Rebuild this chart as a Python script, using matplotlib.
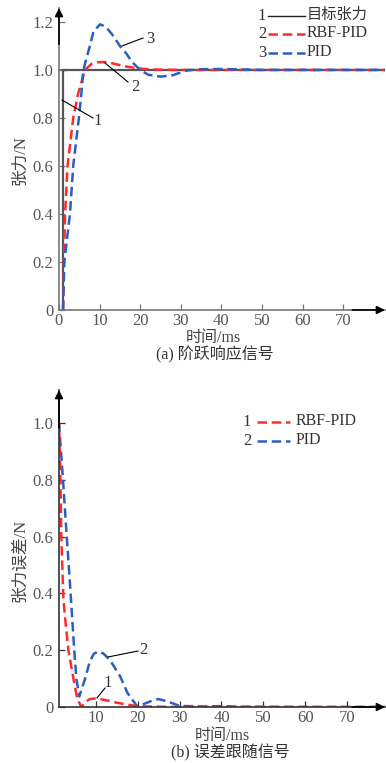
import matplotlib
matplotlib.use("Agg")
import matplotlib.pyplot as plt
from matplotlib.lines import Line2D

FAM = ['Liberation Serif', 'Noto Sans CJK SC', 'DejaVu Sans']
plt.rcParams['font.family'] = FAM

# ---------------- data: (a) step response ----------------
target_t = [0.9, 0.9, 80.3]
target_v = [0, 1.0, 1.0]

rbf_t = [1.0, 1.2, 1.5, 2.1, 3.5, 4.7, 6.4, 8.0, 9.5, 11.3, 13, 15, 17, 19, 21, 23, 26, 30, 40, 50, 60, 70, 80.3]
rbf_v = [0.0, 0.2, 0.4, 0.6, 0.8, 0.9, 1.0, 1.025, 1.032, 1.033, 1.028, 1.02, 1.013, 1.008, 1.004, 1.002, 1.001, 1.0, 1.0, 1.0, 1.0, 1.0, 1.0]

pid_t = [1.0, 1.3, 2.0, 2.7, 3.5, 4.9, 5.5, 6.0, 7.6, 8.5, 10.1, 11.5, 13, 15, 16.5, 18, 20, 22, 25, 28, 31.5, 35, 40, 45, 50, 60, 70, 80.3]
pid_v = [0.0, 0.2, 0.3, 0.4, 0.6, 0.8, 0.9, 1.0, 1.1, 1.16, 1.19, 1.18, 1.15, 1.1, 1.07, 1.033, 1.0, 0.98, 0.972, 0.978, 0.998, 1.003, 1.004, 1.002, 1.0, 1.0, 1.0, 1.0]

# ---------------- data: (b) error tracking ----------------
erbf_t = [1.15, 1.5, 1.7, 2.2, 2.7, 3.4, 4.6, 5.5, 6.5, 7.5, 8.5, 9.8, 11, 13, 15, 18, 20.6, 25, 30, 40, 60, 79.1]
erbf_v = [1.0, 0.8, 0.6, 0.38, 0.3, 0.2, 0.1, 0.03, 0.0, 0.018, 0.028, 0.03, 0.028, 0.022, 0.015, 0.007, 0.002, 0.001, 0.0, 0.0, 0.0, 0.0]

epid_t = [1.15, 2.1, 3.0, 3.7, 4.8, 5.3, 6.0, 7.4, 8.5, 9.5, 10.6, 11.8, 13, 14, 15.8, 17.5, 19.8, 21, 23, 24.9, 27, 30, 35, 40, 45, 60, 79.1]
epid_v = [1.0, 0.8, 0.6, 0.45, 0.2, 0.1, 0.037, 0.1, 0.16, 0.188, 0.195, 0.188, 0.17, 0.15, 0.107, 0.05, 0.003, 0.008, 0.02, 0.028, 0.02, 0.004, 0.002, 0.003, 0.001, 0.0, 0.0]

xt_a = [0, 10, 20, 30, 40, 50, 60, 70]
yt_a = [0, 0.2, 0.4, 0.6, 0.8, 1.0, 1.2]
yl_a = ['0', '0.2', '0.4', '0.6', '0.8', '1.0', '1.2']
xt_b = [10, 20, 30, 40, 50, 60, 70]
yt_b = [0, 0.2, 0.4, 0.6, 0.8, 1.0]
yl_b = ['0', '0.2', '0.4', '0.6', '0.8', '1.0']

RED = '#ff2a2a'
BLUE = '#2a5fc0'
GRAY = '#555555'
DASH = (0, (3.8, 1.9))

W, H = 386, 763
fig = plt.figure(figsize=(W / 100, H / 100), dpi=100)


def px(x, y):
    return x / W, 1 - y / H


def axes_px(l, t, r, b):
    return fig.add_axes([l / W, 1 - b / H, (r - l) / W, (b - t) / H])


def style(ax, axcolor):
    for s in ['top', 'right']:
        ax.spines[s].set_visible(False)
    for s in ['left', 'bottom']:
        ax.spines[s].set_color(axcolor)
        ax.spines[s].set_linewidth(1.2)
    ax.tick_params(direction='in', length=4, width=0.9, colors=axcolor,
                   labelcolor=GRAY, labelsize=12, pad=2)
    ax.tick_params(axis='y', pad=4)
    ax.patch.set_alpha(0)
    ax.annotate('', xy=(0, 1), xycoords='axes fraction', xytext=(0, 0.88),
                arrowprops=dict(arrowstyle='-|>', color='black', lw=1.2,
                                mutation_scale=12, shrinkA=0, shrinkB=0))
    ax.annotate('', xy=(1, 0), xycoords='axes fraction', xytext=(0.9, 0),
                arrowprops=dict(arrowstyle='-|>', color='black', lw=1.2,
                                mutation_scale=12, shrinkA=0, shrinkB=0))


def ftext(x, y, s, size=11, ha='center', va='center', color='#333333', **kw):
    fx, fy = px(x, y)
    fig.text(fx, fy, s, fontsize=size, ha=ha, va=va, color=color, **kw)


def fline(x0, y0, x1, y1, **kw):
    a = px(x0, y0)
    b = px(x1, y1)
    fig.add_artist(Line2D([a[0], b[0]], [a[1], b[1]], transform=fig.transFigure, **kw))


# ---------------- (a) ----------------
ax1 = axes_px(59, 8, 385, 310)
style(ax1, '#777777')
ax1.set_xlim(0, 80.3)
ax1.set_ylim(0, 1.258)
ax1.axhline(1.0, xmax=0.02, color='#777777', lw=1.6)
ax1.plot(target_t, target_v, color='#555555', lw=1.6, solid_capstyle='butt')
ax1.plot(rbf_t, rbf_v, color=RED, lw=1.8, ls=DASH)
ax1.plot(pid_t, pid_v, color=BLUE, lw=1.8, ls=DASH)
ax1.set_xticks(xt_a)
ax1.set_xticklabels([str(v) for v in xt_a])
ax1.set_yticks(yt_a)
ax1.set_yticklabels(yl_a)

ftext(20, 160, '张力/N', size=12, rotation=90, color='#444444')
ftext(213, 338, '时间/ms', size=11.5, color='#444444')
ftext(215, 355, '(a) 阶跃响应信号', size=11.5, color='#333333')

# legend (a)
ftext(262, 16, '1', size=12)
fline(268, 16, 305, 16, color='#222222', lw=1.0)
ftext(307, 15, '目标张力', size=11, ha='left')
ftext(262, 34, '2', size=12)
fline(268, 34, 305, 34, color=RED, lw=1.8, ls=DASH)
ftext(307, 33, 'RBF-PID', size=11.5, ha='left')
ftext(262, 53, '3', size=12)
fline(268, 53, 305, 53, color=BLUE, lw=1.8, ls=DASH)
ftext(307, 52, 'PID', size=11.5, ha='left')

# callouts (a)
fline(122, 46, 143, 38, color='black', lw=0.8)
ftext(150, 39, '3', size=12)
fline(105, 63, 128, 82, color='black', lw=0.8)
ftext(135, 87, '2', size=12)
fline(62, 100, 93, 118, color='black', lw=0.8)
ftext(98, 121, '1', size=12)

# ---------------- (b) ----------------
ax2 = axes_px(59, 390, 385, 707)
style(ax2, '#333333')
ax2.set_xlim(1.15, 79.1)
ax2.set_ylim(0, 1.116)
ax2.plot(epid_t, epid_v, color=BLUE, lw=1.8, ls=DASH)
ax2.plot(erbf_t, erbf_v, color=RED, lw=1.8, ls=(2.0, (3.8, 1.9)))
ax2.set_xticks(xt_b)
ax2.set_xticklabels([str(v) for v in xt_b])
ax2.set_yticks(yt_b)
ax2.set_yticklabels(yl_b)

ftext(20, 560, '张力误差/N', size=12, rotation=90, color='#444444')
ftext(222, 736, '时间/ms', size=11.5, color='#444444')
ftext(230, 753, '(b) 误差跟随信号', size=11.5, color='#333333')

# legend (b)
ftext(247, 422, '1', size=12)
fline(257, 422, 290, 422, color=RED, lw=1.8, ls=DASH)
ftext(296, 421, 'RBF-PID', size=11.5, ha='left')
ftext(247, 441, '2', size=12)
fline(257, 441, 290, 441, color=BLUE, lw=1.8, ls=DASH)
ftext(296, 440, 'PID', size=11.5, ha='left')

# callouts (b)
fline(108, 657, 138, 651, color='black', lw=0.8)
ftext(143, 650, '2', size=12)
fline(97, 698, 105, 688, color='black', lw=0.8)
ftext(108, 683, '1', size=12)

fig.savefig('out.png', dpi=100)
